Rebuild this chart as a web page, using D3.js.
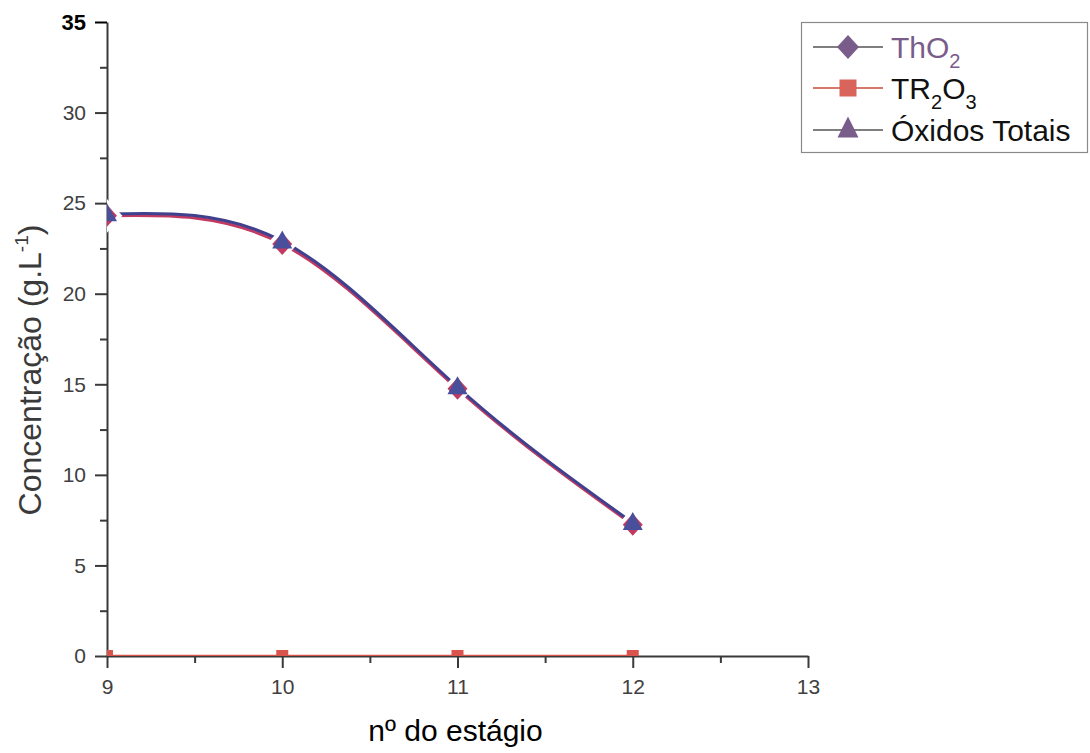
<!DOCTYPE html>
<html><head><meta charset="utf-8">
<script src="https://cdn.jsdelivr.net/npm/d3@7"></script>
<style>
body{margin:0;background:#fff}
svg{display:block}
text{font-family:"Liberation Sans",Arial,sans-serif}
</style>
</head><body>
<svg id="chart" width="1090" height="753"></svg>
<script>
// ---- data ----
const stages = [9, 10, 11, 12];
const thO2 = [24.3, 22.75, 14.75, 7.25];
const tr2O3 = [0, 0, 0, 0];
const oxidosTotais = [24.4, 22.9, 14.85, 7.35];
const xTicks = [9, 10, 11, 12, 13];
const xMinorTicks = [9.5, 10.5, 11.5, 12.5];
const yTicks = [0, 5, 10, 15, 20, 25, 30, 35];
const yMinorTicks = [2.5, 7.5, 12.5, 17.5, 22.5, 27.5, 32.5];
const xTitle = "nº do estágio";
const yTitle = "Concentração (g.L";

// ---- layout ----
const svg = d3.select("#chart");
const L = 107, R = 808, T = 22, B = 656;
const x = d3.scaleLinear().domain([9, 13]).range([L, R]);
const y = d3.scaleLinear().domain([0, 35]).range([B, T]);
const axisColor = "#3a3a3a";
const labelColor = "#404040";
const FONT = '"Liberation Sans",Arial,sans-serif';

// axes
const gx = svg.append("g").attr("transform", `translate(0,${B})`)
  .call(d3.axisBottom(x).tickValues(xTicks).tickSize(12).tickSizeOuter(0).tickPadding(11).tickFormat(d3.format("d")));
const gxm = svg.append("g").attr("transform", `translate(0,${B})`)
  .call(d3.axisBottom(x).tickValues(xMinorTicks).tickSize(7).tickSizeOuter(0).tickFormat(""));
const gy = svg.append("g").attr("transform", `translate(${L},0)`)
  .call(d3.axisLeft(y).tickValues(yTicks).tickSize(12).tickSizeOuter(0).tickPadding(9).tickFormat(d3.format("d")));
const gym = svg.append("g").attr("transform", `translate(${L},0)`)
  .call(d3.axisLeft(y).tickValues(yMinorTicks).tickSize(7).tickSizeOuter(0).tickFormat(""));
[gx, gxm, gy, gym].forEach(g => {
  g.attr("font-size", 21).attr("font-family", FONT);
  g.selectAll("path.domain").attr("stroke", axisColor).attr("stroke-width", 2);
  g.selectAll(".tick line").attr("stroke", axisColor).attr("stroke-width", 2);
  g.selectAll(".tick text").attr("fill", labelColor).attr("font-size", 21).style("font-size", "21px");
});
gxm.select("path.domain").remove();
gym.select("path.domain").remove();
gy.selectAll(".tick").filter(d => d === 35).select("text")
  .attr("fill", "#000").style("font-weight", "bold").style("font-size", "22px");
gy.selectAll(".tick").filter(d => d === 35).select("line").attr("stroke", "#000");

// axis titles
svg.append("text").attr("x", (L + R) / 2 - 2).attr("y", 741).attr("text-anchor", "middle")
  .style("font-size", "30px").attr("fill", "#000").text(xTitle);
const yt = svg.append("text").attr("transform", "translate(41,370) rotate(-90)")
  .attr("text-anchor", "middle").style("font-size", "32px").attr("fill", "#3a3a3a");
yt.append("tspan").text(yTitle);
yt.append("tspan").attr("dy", -13).style("font-size", "19px").text("-1");
yt.append("tspan").attr("dy", 13).text(")");

// series
svg.append("clipPath").attr("id", "plotclip")
  .append("rect").attr("x", L).attr("y", T - 15).attr("width", R - L).attr("height", B - T + 15);
const plot = svg.append("g").attr("clip-path", "url(#plotclip)");

const line = d3.line().curve(d3.curveNatural).x(d => x(d[0])).y(d => y(d[1]));
const zip = vals => stages.map((s, i) => [s, vals[i]]);

const cTh = "#c23a62", cTR = "#d9544c", cOx = "#3f418f";

plot.append("path").datum(zip(thO2)).attr("d", line).attr("fill", "none")
  .attr("stroke", cTh).attr("stroke-width", 3);
plot.append("path").datum(zip(tr2O3)).attr("d", d3.line().x(d => x(d[0])).y(d => y(d[1])))
  .attr("fill", "none").attr("stroke", cTR).attr("stroke-width", 2.5);
plot.append("path").datum(zip(oxidosTotais)).attr("d", line).attr("fill", "none")
  .attr("stroke", cOx).attr("stroke-width", 3);

const diamond = (cx, cy, w, h) => `M${cx},${cy - h}L${cx + w},${cy}L${cx},${cy + h}L${cx - w},${cy}Z`;
const square = (cx, cy, s) => `M${cx - s},${cy - s}H${cx + s}V${cy + s}H${cx - s}Z`;
const tri = (cx, cy, w, h) => `M${cx},${cy - h * 0.6}L${cx + w},${cy + h * 0.4}L${cx - w},${cy + h * 0.4}Z`;

// white gaps around markers on the curves
plot.selectAll(".halo").data(zip(thO2)).join("path")
  .attr("d", d => diamond(x(d[0]), y(d[1]), 10, 11)).attr("fill", "#fff").attr("stroke", "#fff").attr("stroke-width", 8);
plot.selectAll(".thm").data(zip(thO2)).join("path")
  .attr("d", d => diamond(x(d[0]), y(d[1]), 10, 11)).attr("fill", cTh);
plot.selectAll(".trm").data(zip(tr2O3)).join("path")
  .attr("d", d => square(x(d[0]), y(d[1]), 6)).attr("fill", cTR);
plot.selectAll(".oxm").data(zip(oxidosTotais)).join("path")
  .attr("d", d => tri(x(d[0]), y(d[1]), 10, 18)).attr("fill", "#4a4f9c");

// legend
const lg = svg.append("g");
lg.append("rect").attr("x", 801.5).attr("y", 22.5).attr("width", 286).attr("height", 130)
  .attr("fill", "#fff").attr("stroke", "#8a8a8a").attr("stroke-width", 1.2);
const legendRows = [
  {name: ["ThO", "2"], color: "#7a5c8a", text: "#7a5c8a", shape: "diamond", y: 47},
  {name: ["TR", "2", "O", "3"], color: "#d8645a", text: "#111", shape: "square", y: 88},
  {name: ["Óxidos Totais"], color: "#7a5c8a", text: "#111", shape: "triangle", y: 130}
];
legendRows.forEach(r => {
  lg.append("line").attr("x1", 813).attr("x2", 883).attr("y1", r.y).attr("y2", r.y)
    .attr("stroke", r.shape === "square" ? "#c84a3c" : "#555").attr("stroke-width", 1.6);
  let d;
  if (r.shape === "diamond") d = diamond(848, r.y, 11, 12);
  else if (r.shape === "square") d = square(848, r.y, 8.5);
  else d = tri(848, r.y - 1, 10.5, 21);
  lg.append("path").attr("d", d).attr("fill", r.color);
  const t = lg.append("text").attr("x", 891).attr("y", r.y + 11).style("font-size", "30px").attr("fill", r.text);
  r.name.forEach((s, i) => {
    if (i % 2 === 1) t.append("tspan").attr("dy", 10).style("font-size", "20px").text(s);
    else t.append("tspan").attr("dy", i === 0 ? 0 : -10).text(s);
  });
});
</script>
</body></html>
